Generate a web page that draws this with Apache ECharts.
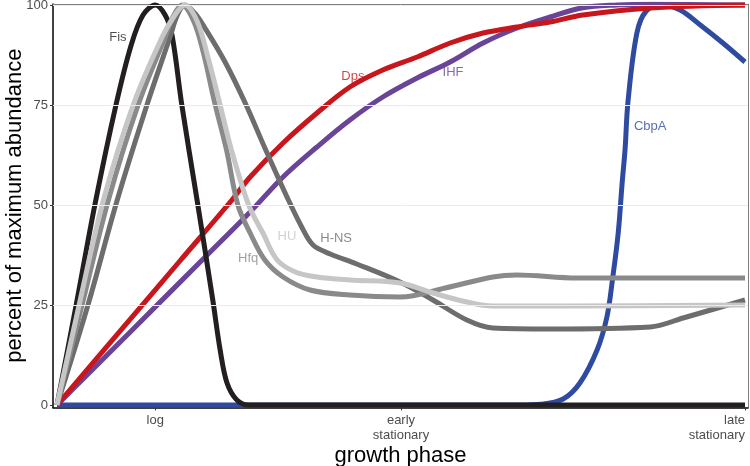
<!DOCTYPE html>
<html><head><meta charset="utf-8">
<script src="https://cdn.jsdelivr.net/npm/echarts@6/dist/echarts.min.js"></script>
<style>html,body{margin:0;padding:0;background:#fff}#c{width:750px;height:466px}</style>
</head><body><div id="c"></div>
<script>
// axis ticks
const xTickValues = [2, 7, 14];
const xTickLabels = ['log', 'early\nstationary', 'late\nstationary'];
const yTickValues = [0, 25, 50, 75, 100];
const gridValues = [25, 50, 75, 100];

// series values: [growth phase position, percent of maximum abundance]
const cbpA = [[0,0],[4,0],[8,0],[9.4,0],[9.85,0.2],[10.3,1.5],[10.64,5.5],[10.99,13.75],[11.19,22],[11.31,32],[11.42,43],[11.5,55.5],[11.56,64],[11.62,76],[11.8,93],[11.99,98.5],[12.3,100],[12.68,98.75],[13.09,95],[13.55,90.5],[14,85.75]];
const ihf = [[0,0],[1.5,18.4],[3,36.8],[3.93,48.25],[4.6,57],[5.29,64.5],[5.96,71.25],[6.63,77],[7.33,81.75],[8.0,85.75],[8.67,90.5],[9.36,94.25],[10.03,97],[10.7,99.3],[11.4,100],[12.07,100.2],[14,100]];
const dps = [[0,0],[1.5,21.6],[2.5,36],[3.56,51.25],[3.93,57],[4.6,65.5],[5.29,73],[5.96,79.5],[6.63,83.75],[7.33,87],[8.0,90.5],[8.67,93],[9.36,94.5],[10.03,95.75],[10.7,97.5],[12.07,99.25],[14,100]];
const fis = [[0,0],[0.39,25],[0.77,50],[1.2,75],[1.51,90],[1.75,97.5],[2,100],[2.2,97.5],[2.34,92.5],[2.54,75],[2.85,51.25],[3.17,26.25],[3.32,13.75],[3.46,5.5],[3.66,1.25],[3.9,0],[4.3,0],[6,0],[9,0],[12,0],[14,0]];
const hns = [[0,0],[0.63,25],[1.22,51],[1.83,75],[2.3,92],[2.45,97.5],[2.6,100],[2.8,98],[3.01,94.25],[3.42,85.75],[3.83,75.5],[4.23,64.25],[4.68,52],[4.99,44.25],[5.21,40],[5.56,37.75],[6.1,35.25],[6.98,30.75],[7.65,26.25],[8.34,21.25],[8.87,19.25],[10.03,19],[12.07,19.5],[12.74,21.75],[14,26.25]];
const hfq = [[0,0],[0.51,25],[1.04,51],[1.65,75],[2.2,92],[2.38,97.5],[2.54,100],[2.78,96],[2.98,88],[3.2,76],[3.45,63.75],[3.68,50],[3.93,43],[4.23,36.25],[4.6,32],[5.15,28.75],[5.96,27.5],[6.98,27],[7.9,29.25],[8.87,32],[9.36,32.5],[10.58,31.75],[14,31.75]];
const hu = [[0,0],[0.45,25],[0.94,51],[1.55,75],[2.14,92],[2.4,97.5],[2.6,100],[2.85,96],[3.07,87],[3.3,76],[3.55,63.75],[3.9,50],[4.19,43],[4.48,36.25],[4.85,33.25],[5.29,32],[5.96,31.25],[6.98,30.5],[7.65,28],[8.34,25.75],[8.87,24.75],[10.38,24.75],[14,25]];

// direct labels
const labelNames = ['Fis', 'Hfq', 'HU', 'H-NS', 'Dps', 'IHF', 'CbpA'];
const labelX = [1.24, 3.89, 4.68, 5.68, 6.02, 8.06, 12.07];
const labelY = [92, 36.75, 42.25, 41.75, 82.25, 83.25, 69.75];

const COL = {Fis:'#231f20', Hfq:'#8a8a8a', HU:'#c6c6c6', 'H-NS':'#6d6d6d', Dps:'#c8161d', IHF:'#6a4496', CbpA:'#2f4b9f'};
const FONT = '"Liberation Sans", Arial, sans-serif';

function lineSeries(name, data) {
  return {
    name, type: 'line', data, showSymbol: false, symbol: 'none', smooth: 0.35, z: 3,
    lineStyle: {color: COL[name], width: 5, cap: 'butt', join: 'round'},
    emphasis: {disabled: true}, silent: true
  };
}

const chart = echarts.init(document.getElementById('c'), null, {renderer: 'canvas'});
const xMin = -0.0814, xMax = 14.061, yMin = -0.6, yMax = 100.25;
chart.setOption({
  animation: false,
  backgroundColor: '#fff',
  textStyle: {fontFamily: FONT},
  grid: {left: 53, right: 2, top: 4, bottom: 58.6, containLabel: false, outerBoundsMode: 'none'},
  xAxis: [{
    type: 'value', min: xMin, max: xMax, position: 'bottom',
    name: 'growth phase', nameLocation: 'middle', nameGap: 38, nameMoveOverlap: false,
    nameTextStyle: {fontSize: 22, color: '#000', fontFamily: FONT, lineHeight: 22},
    axisLine: {show: true, onZero: false, lineStyle: {color: '#000', width: 1.5}},
    axisTick: {show: true, customValues: xTickValues, length: 3, lineStyle: {color: '#333', width: 1}},
    axisLabel: {show: true, customValues: xTickValues, margin: 6, fontSize: 13, lineHeight: 15, color: '#4d4d4d', fontFamily: FONT,
      alignMaxLabel: 'right', showMaxLabel: true, showMinLabel: true, hideOverlap: false,
      formatter: v => { const i = xTickValues.indexOf(v); return i >= 0 ? xTickLabels[i] : ''; }},
    splitLine: {show: false}
  }, {
    type: 'value', min: xMin, max: xMax, position: 'top',
    axisLine: {show: true, onZero: false, lineStyle: {color: '#7f7f7f', width: 1}},
    axisTick: {show: false}, axisLabel: {show: false}, splitLine: {show: false}
  }],
  yAxis: [{
    type: 'value', min: yMin, max: yMax, position: 'left',
    name: 'percent of maximum abundance', nameLocation: 'middle', nameGap: 27, nameRotate: 90, nameMoveOverlap: false,
    nameTextStyle: {fontSize: 22, color: '#000', fontFamily: FONT, lineHeight: 22},
    axisLine: {show: true, onZero: false, lineStyle: {color: '#000', width: 1.5}},
    axisTick: {show: true, customValues: yTickValues, length: 3, lineStyle: {color: '#333', width: 1}},
    axisLabel: {show: true, customValues: yTickValues, margin: 5, fontSize: 13, color: '#4d4d4d', fontFamily: FONT,
      showMaxLabel: true, showMinLabel: true, hideOverlap: false},
    splitLine: {show: false}
  }, {
    type: 'value', min: yMin, max: yMax, position: 'right',
    axisLine: {show: true, onZero: false, lineStyle: {color: '#7f7f7f', width: 1}},
    axisTick: {show: false}, axisLabel: {show: false}, splitLine: {show: false}
  }],
  series: [
    {type: 'line', data: [], z: 1, silent: true,
      markLine: {silent: true, symbol: 'none', animation: false, label: {show: false},
        lineStyle: {color: '#ebebeb', width: 1, type: 'solid'}, emphasis: {disabled: true},
        data: gridValues.map(v => ({yAxis: v}))}},
    lineSeries('CbpA', cbpA),
    lineSeries('IHF', ihf),
    lineSeries('Dps', dps),
    lineSeries('Fis', fis),
    lineSeries('H-NS', hns),
    lineSeries('Hfq', hfq),
    lineSeries('HU', hu),
    {type: 'scatter', z: 5, silent: true, symbol: 'circle', symbolSize: 1,
      itemStyle: {color: 'rgba(0,0,0,0)'},
      data: labelNames.map((n, i) => ({value: [labelX[i], labelY[i]], name: n,
        label: {color: COL[n]}})),
      label: {show: true, position: 'inside', formatter: p => p.name, fontSize: 13, fontFamily: FONT}}
  ]
});
</script></body></html>
